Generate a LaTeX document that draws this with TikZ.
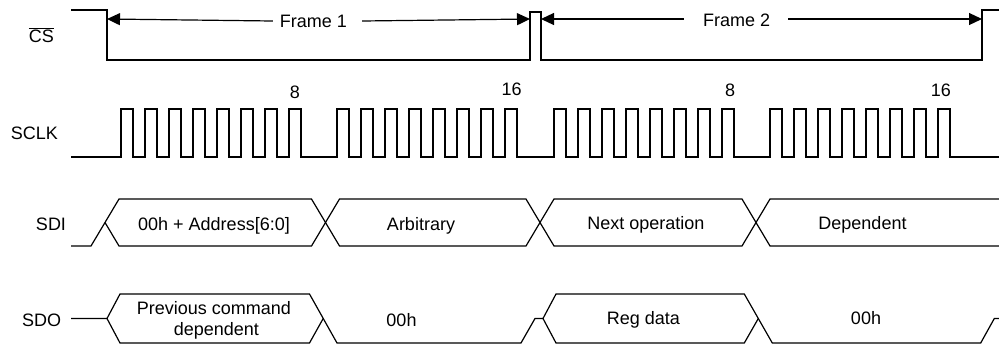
\documentclass[tikz,border=0pt]{standalone}
\usepackage{fontspec}
\setmainfont{Liberation Sans}
\usetikzlibrary{arrows.meta}
\tikzset{
  wire/.style={line width=1.2pt, line join=miter, black},
  arr/.style={line width=1.2pt, -{Triangle[length=13pt,width=12pt]}},
  lbl/.style={anchor=base, inner sep=0pt, font=\fontsize{18}{21}\selectfont},
}
\begin{document}
\begin{tikzpicture}[x=1pt,y=-1pt]
\useasboundingbox (0,0) rectangle (999,346);
% ---------- labels ----------
\node[lbl] (cs) at (41.5,42.5) {$\overline{\mbox{CS}}$};
\node[lbl] (sclk) at (34.5,139) {SCLK};
\node[lbl] (sdi) at (51,230) {SDI};
\node[lbl] (sdo) at (41.7,326) {SDO};
% ---------- CS ----------
\draw[wire] (71,10) -- (107,10) -- (107,60) -- (530,60) -- (530,12)
  -- (541,12) -- (541,60) -- (982,60) -- (982,10) -- (999,10);
\coordinate (f1a) at (107,19);
\coordinate (f1b) at (530,19);
\coordinate (f2a) at (541,19);
\coordinate (f2b) at (982,19);
\node[lbl] (f1) at (313.5,27.3) {Frame 1};
\node[lbl] (f2) at (736.7,26.8) {Frame 2};
\draw[arr] ([xshift=-7pt,yshift=6.3pt]f1.base west) -- (f1a);
\draw[arr] ([xshift=15pt,yshift=6.3pt]f1.base east) -- (f1b);
\draw[arr] ([xshift=-19pt,yshift=7.8pt]f2.base west) -- (f2a);
\draw[arr] ([xshift=18pt,yshift=7.8pt]f2.base east) -- (f2b);
% ---------- SCLK ----------
\draw[wire] (71,157)
  foreach \x in {121,145,...,289,337,361,...,505,554,578,...,722,770,794,...,938}
  { -- (\x,157) -- (\x,109) -- ({\x+12},109) -- ({\x+12},157) }
  -- (999,157);
\node[lbl] (n8a) at (295,98.2) {8};
\node[lbl] (n16a) at (511.7,95.9) {16};
\node[lbl] (n8b) at (730,96) {8};
\node[lbl] (n16b) at (940.8,96) {16};
% ---------- SDI ----------
\draw[wire] (71,246) -- (91,246) -- (119,199) -- (311.5,199) -- (339.5,246) -- (526,246)
  -- (554,199) -- (742,199) -- (770,246) -- (999,246);
\draw[wire] (105,222.5) -- (119,246) -- (311.5,246) -- (339.5,199) -- (526,199)
  -- (554,246) -- (742,246) -- (770,199) -- (999,199);
\node[lbl] (d1) at (214,230) {00h + Address[6:0]};
\node[lbl] (d2) at (421,230) {Arbitrary};
\node[lbl] (d3) at (646,229) {Next operation};
\node[lbl] (d4) at (862.5,229) {Dependent};
% ---------- SDO ----------
\draw[wire] (71,318.5) -- (107,318.5) -- (120,294) -- (309.5,294) -- (337,343)
  -- (521,343) -- (535,318.5) -- (543,318.5) -- (556,294) -- (744.3,294)
  -- (772.3,343) -- (980.7,343) -- (994.3,318.5) -- (999,318.5);
\draw[wire] (107,318.5) -- (120,343) -- (309.5,343) -- (323.2,318.5);
\draw[wire] (543,318.5) -- (556,343) -- (744.3,343) -- (758.3,318.5);
\node[lbl] (o1a) at (214,314) {Previous command};
\node[lbl] (o1b) at (216.3,335) {dependent};
\node[lbl] (o2) at (401.5,326) {00h};
\node[lbl] (o3) at (643.5,324) {Reg data};
\node[lbl] (o4) at (866,324) {00h};
\end{tikzpicture}
\end{document}
